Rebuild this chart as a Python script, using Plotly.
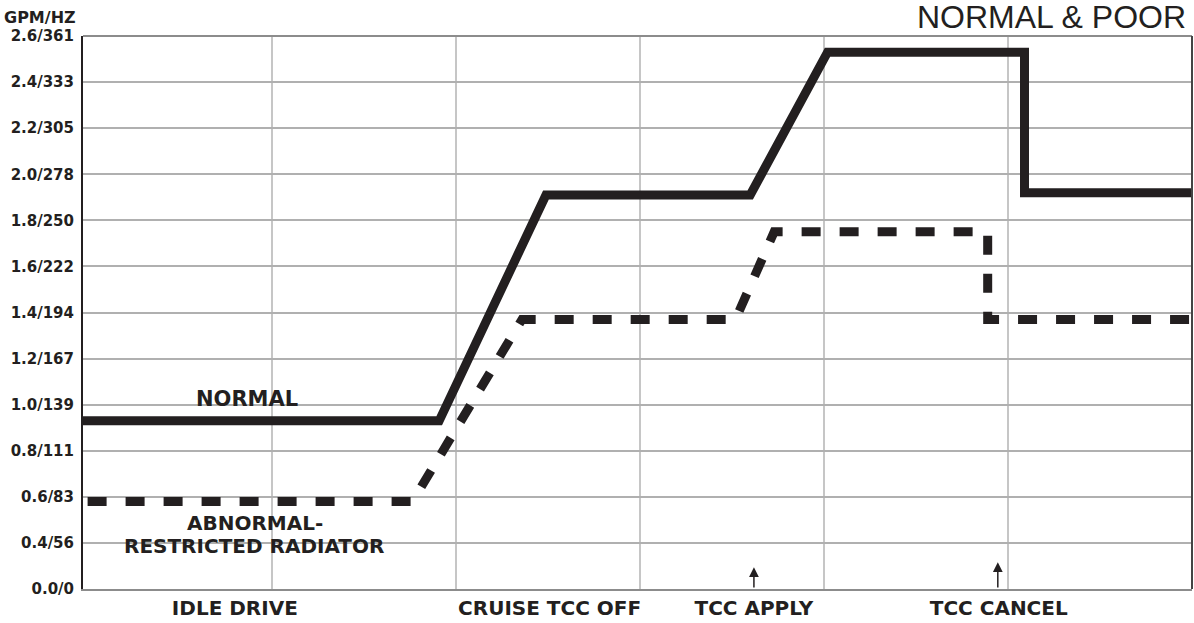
import numpy as np
import plotly.graph_objects as go

# ---- data ----
y_tick_gpm = [0.0, 0.4, 0.6, 0.8, 1.0, 1.2, 1.4, 1.6, 1.8, 2.0, 2.2, 2.4, 2.6]
y_tick_text = ["0.0/0", "0.4/56", "0.6/83", "0.8/111", "1.0/139", "1.2/167", "1.4/194",
               "1.6/222", "1.8/250", "2.0/278", "2.2/305", "2.4/333", "2.6/361"]

x_categories = ["IDLE DRIVE", "CRUISE TCC OFF", "TCC APPLY", "TCC CANCEL"]
x_category_pos = [0.80, 2.51, 3.62, 4.95]

normal_x = [-0.03, 1.91, 2.49, 3.60, 4.02, 5.09, 5.09, 6.0]
normal_gpm = [0.93, 0.93, 1.91, 1.91, 2.53, 2.53, 1.92, 1.92]

abnormal_x = [0.0, 1.765, 2.36, 3.52, 3.73, 4.89, 4.89, 6.0]
abnormal_gpm = [0.58, 0.58, 1.37, 1.37, 1.75, 1.75, 1.37, 1.37]

event_arrows_x = [3.62, 4.945]
event_arrows_len = [0.47, 0.58]

idx = np.arange(len(y_tick_gpm))


def ypos(v):
    return np.interp(v, y_tick_gpm, idx)


INK = "#231f20"
FONT = "DejaVu Sans"

fig = go.Figure()
fig.add_trace(go.Scatter(x=normal_x, y=ypos(normal_gpm), mode="lines",
                         line=dict(color=INK, width=9), showlegend=False,
                         hoverinfo="skip"))
fig.add_trace(go.Scatter(x=abnormal_x, y=ypos(abnormal_gpm), mode="lines",
                         line=dict(color=INK, width=9, dash="19px,19px"),
                         showlegend=False, hoverinfo="skip"))

fig.update_layout(
    width=1194, height=623,
    margin=dict(l=83, r=2, t=36, b=34),
    paper_bgcolor="white", plot_bgcolor="white",
    xaxis=dict(range=[-0.025, 6.0], showgrid=False, zeroline=False, automargin=False,
               tickmode="array", tickvals=x_category_pos, ticktext=x_categories,
               ticks="", ticklabelstandoff=0,
               tickfont=dict(family=FONT, size=20, color=INK, weight="bold"),
               showline=True, linecolor="#8c8c8c", linewidth=2,
               minor=dict(tickmode="array", tickvals=[1, 2, 3, 4, 5], showgrid=True,
                          gridcolor="#c6c6c6", gridwidth=2, ticks="")),
    yaxis=dict(range=[0, 12], tickmode="array", tickvals=list(idx), ticktext=y_tick_text,
               showgrid=True, gridcolor="#b0b0b0", gridwidth=2, zeroline=False,
               automargin=False, ticks="", ticklabelstandoff=4,
               tickfont=dict(family=FONT, size=15, color=INK, weight="bold"),
               showline=True, linecolor=INK, linewidth=2),
    shapes=[
        dict(type="line", xref="paper", yref="paper", x0=0, x1=1, y0=1, y1=1,
             line=dict(color="#8c8c8c", width=2)),
        dict(type="line", xref="paper", yref="paper", x0=1, x1=1, y0=0, y1=1,
             line=dict(color="#444444", width=2)),
    ],
)

annotations = [
    dict(text="GPM/HZ", xref="paper", yref="paper", x=-0.073, y=1.034,
         xanchor="left", yanchor="middle", showarrow=False,
         font=dict(family=FONT, size=16, color=INK, weight="bold")),
    dict(text="NORMAL &amp; POOR", xref="paper", yref="paper", x=0.996, y=1.035,
         xanchor="right", yanchor="middle", showarrow=False,
         font=dict(family="Liberation Sans", size=32, color=INK)),
    dict(text="NORMAL", x=0.864, y=4.12, xref="x", yref="y", showarrow=False,
         font=dict(family=FONT, size=21, color=INK, weight="bold")),
    dict(text="ABNORMAL-", x=0.908, y=1.44, xref="x", yref="y", showarrow=False,
         font=dict(family=FONT, size=20, color=INK, weight="bold")),
    dict(text="RESTRICTED RADIATOR", x=0.902, y=0.94, xref="x", yref="y", showarrow=False,
         font=dict(family=FONT, size=20, color=INK, weight="bold")),
]
for ax_x, ln in zip(event_arrows_x, event_arrows_len):
    annotations.append(dict(text="", x=ax_x, y=ln, ax=ax_x, ay=0, xref="x", yref="y",
                            axref="x", ayref="y", showarrow=True, arrowhead=2,
                            arrowsize=1.3, arrowwidth=1.5, arrowcolor=INK))
fig.update_layout(annotations=annotations)

fig.write_html("out.html", config={"displayModeBar": False},
               post_script="document.body.style.margin='0';document.body.style.padding='0';")
